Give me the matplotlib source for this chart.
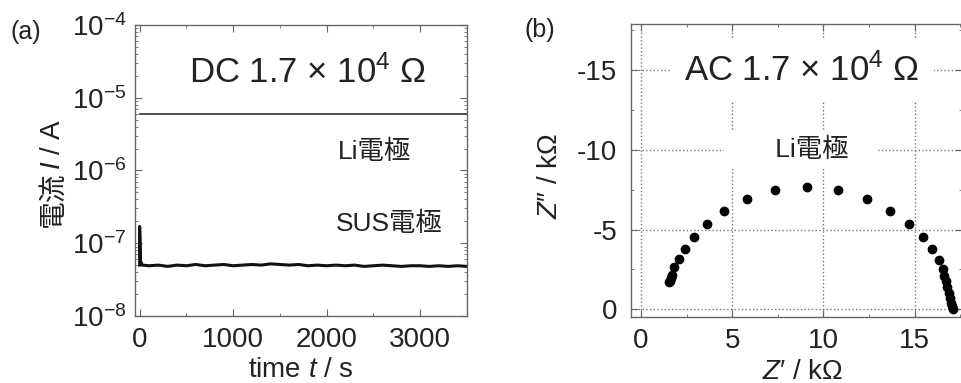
import numpy as np
import matplotlib
matplotlib.use('Agg')
from matplotlib import pyplot as plt
from matplotlib.ticker import MultipleLocator, FixedLocator

plt.rcParams['font.family'] = ['Liberation Sans', 'Noto Sans CJK JP', 'DejaVu Sans']
plt.rcParams['mathtext.fontset'] = 'custom'
plt.rcParams['mathtext.rm'] = 'Liberation Sans'
plt.rcParams['mathtext.it'] = 'Liberation Sans:italic'
plt.rcParams['axes.unicode_minus'] = False

# (a) DC current vs time
li_t = [0, 3500]
li_i = [6.0e-6, 6.0e-6]

sus_t = [0, 0, 10, 30, 100, 200, 300, 400, 500, 600, 700, 800, 900, 1000,
         1100, 1200, 1300, 1400, 1500, 1600, 1700, 1800, 1900, 2000, 2100,
         2200, 2300, 2400, 2500, 2600, 2700, 2800, 2900, 3000, 3100, 3200,
         3300, 3400, 3500]
sus_i = [5.0e-8, 1.7e-7, 5.6e-8, 5.0e-8, 4.9e-8, 5.0e-8, 4.8e-8, 5.0e-8,
         4.9e-8, 5.1e-8, 4.9e-8, 5.0e-8, 5.1e-8, 4.9e-8, 5.0e-8, 5.1e-8,
         5.0e-8, 5.2e-8, 5.1e-8, 5.0e-8, 5.1e-8, 4.9e-8, 5.0e-8, 4.9e-8,
         5.0e-8, 4.9e-8, 5.0e-8, 4.8e-8, 4.9e-8, 5.0e-8, 4.9e-8, 4.8e-8,
         4.9e-8, 4.9e-8, 4.8e-8, 4.9e-8, 4.8e-8, 4.9e-8, 4.8e-8]

# (b) Nyquist plot, kOhm
z_re = [1.54, 1.59, 1.65, 1.72, 1.83, 2.07, 2.40, 2.89, 3.59, 4.55, 5.82,
        7.37, 9.11, 10.81, 12.37, 13.66, 14.71, 15.44, 15.95, 16.32, 16.55,
        16.64, 16.72, 16.79, 16.86, 16.94, 17.01, 17.06, 17.10]
z_im = [-1.68, -1.78, -1.95, -2.14, -2.62, -3.15, -3.76, -4.51, -5.33, -6.19,
        -6.92, -7.47, -7.66, -7.51, -6.94, -6.19, -5.37, -4.51, -3.76, -3.08,
        -2.52, -2.06, -1.74, -1.38, -1.00, -0.69, -0.38, -0.17, 0.0]

spine_col = '#666666'
fs = 20
fs_txt = 19

fig = plt.figure(figsize=(9.62, 3.83), dpi=100)
ax1 = fig.add_axes([0.1403, 0.175, 0.345, 0.760])
ax2 = fig.add_axes([0.656, 0.172, 0.344, 0.765])

for ax in (ax1, ax2):
    for s in ax.spines.values():
        s.set_color(spine_col)
        s.set_linewidth(1.0)
    ax.tick_params(which='both', direction='in', top=True, right=True,
                   color=spine_col, labelsize=fs, labelcolor='#222222')
    ax.tick_params(which='major', length=5)
    ax.tick_params(which='minor', length=2.5)
    ax.tick_params(axis='x', pad=8)
ax1.tick_params(axis='y', pad=6)
ax2.tick_params(axis='y', pad=10)

# panel (a)
ax1.plot(li_t, li_i, color='#333333', lw=1.2)
ax1.plot(sus_t, sus_i, color='#111111', lw=2.2)
ax1.set_yscale('log')
ax1.set_ylim(1e-8, 1e-4)
ax1.set_xlim(-50, 3500)
ax1.xaxis.set_major_locator(FixedLocator([0, 1000, 2000, 3000]))
ax1.xaxis.set_minor_locator(MultipleLocator(500))
ax1.set_xlabel('time $\\mathit{t}$ / s', fontsize=fs, color='#222222', va='center')
ax1.xaxis.set_label_coords(0.5, -0.186)
ax1.text(1795, 2.2e-5, 'DC 1.7 × 10$^{4}$ Ω', fontsize=25, ha='center', va='center',
         color='#222222')
ax1.text(2510, 1.8e-6, 'Li電極', fontsize=fs_txt, ha='center', va='center', color='#222222')
ax1.text(2670, 1.82e-7, 'SUS電極', fontsize=fs_txt, ha='center', va='center', color='#222222')

# panel (b)
ax2.plot(z_re, z_im, 'o', color='black', ms=6, zorder=3)
ax2.set_xlim(-0.55, 17.6)
ax2.set_ylim(0.5, -17.9)
ax2.xaxis.set_major_locator(FixedLocator([0, 5, 10, 15]))
ax2.yaxis.set_major_locator(FixedLocator([0, -5, -10, -15]))
ax2.xaxis.set_minor_locator(MultipleLocator(2.5))
ax2.yaxis.set_minor_locator(MultipleLocator(2.5))
ax2.grid(True, which='major', color='#777777', linestyle=':', linewidth=1.0)
ax2.set_axisbelow(True)
ax2.set_xlabel('$\\mathit{Z}$′ / kΩ', fontsize=fs, color='#222222', va='center')
ax2.set_ylabel('$\\mathit{Z}$″ / kΩ', fontsize=fs, color='#222222', va='center')
ax2.xaxis.set_label_coords(0.518, -0.186)
ax2.yaxis.set_label_coords(-0.245, 0.48)
ax2.text(8.83, -15, 'AC 1.7 × 10$^{4}$ Ω', fontsize=25, ha='center', va='center',
         color='#222222', bbox=dict(facecolor='white', edgecolor='none', pad=10))
ax2.text(8.76, -10, '      Li電極   ', fontsize=fs_txt, ha='center', va='center',
         color='#222222', bbox=dict(facecolor='white', edgecolor='none', pad=5))

# y label of (a): CJK part and italic I drawn as two pieces stacked upward
r = fig.canvas.get_renderer()
lab_x = -0.246
p1 = ax1.text(lab_x, 0, '電流', rotation=90, fontsize=fs, color='#222222',
              transform=ax1.transAxes, ha='center', va='bottom')
p2 = ax1.text(lab_x, 0, '$\\mathit{I}$ / A', rotation=90, fontsize=fs, color='#222222',
              transform=ax1.transAxes, ha='center', va='bottom')
h_ax = ax1.get_window_extent(r).height
h1 = p1.get_window_extent(r).height / h_ax
h2 = p2.get_window_extent(r).height / h_ax
y0 = 0.49 - (h1 + h2) / 2
p1.set_y(y0)
p2.set_y(y0 + h1 + 0.005)

fig.text(0.027, 0.916, '(a)', fontsize=18, ha='center', va='center', color='#222222')
fig.text(0.561, 0.922, '(b)', fontsize=18, ha='center', va='center', color='#222222')

plt.savefig('out.png', dpi=100)
